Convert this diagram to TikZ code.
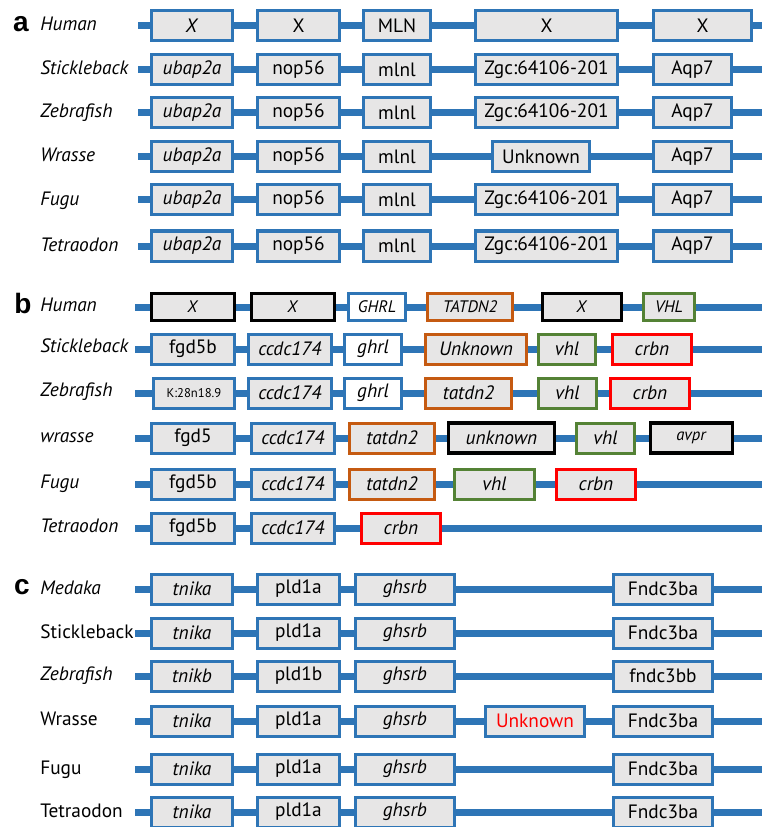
\documentclass[tikz,border=0pt]{standalone}
\usepackage{fontspec}
\setmainfont{PT Sans}
\newfontfamily\panelfont{Liberation Sans}

\definecolor{geneblue}{HTML}{2E75B6}
\definecolor{genegray}{HTML}{E7E6E6}
\definecolor{tatorange}{HTML}{C55A11}
\definecolor{vhlgreen}{HTML}{548235}
\definecolor{crbnred}{HTML}{FF0000}

\newcommand\genefont{\fontsize{14.5}{16}\selectfont}
\newcommand\smallgenefont{\fontsize{12.5}{14}\selectfont}

\tikzset{
  gene/.style={rectangle, draw=geneblue, fill=genegray, line width=2.25pt,
    inner sep=0pt, minimum height=22.5pt, font=\genefont},
  gw/.style={minimum width=#1*0.75pt},
  gh/.style={minimum height=#1*0.75pt},
  whitegene/.style={gene, fill=white},
  orangegene/.style={gene, draw=tatorange},
  greengene/.style={gene, draw=vhlgreen},
  redgene/.style={gene, draw=crbnred},
  blackgene/.style={gene, draw=black, line width=2.6pt},
  chrom/.style={draw=geneblue, line width=5.25pt},
  species/.style={anchor=base west, inner sep=0pt, font=\genefont},
  panel/.style={font=\panelfont\fontsize{21}{24}\selectfont\bfseries, inner sep=0pt}
}

\begin{document}
\begin{tikzpicture}[x=0.75pt,y=-0.75pt]
\useasboundingbox (0,0) rectangle (762,827);

% ---- panel a
\node[panel] (pa) at (21,24) {a};
\node[species] (a1n) at (40,31) {\textit{Human}};
\coordinate (a1s) at (138,26);
\coordinate (a1e) at (762,26);
\node[gene,gw=81] (a11) at (192,26) {\textit{X}};
\node[gene,gw=82] (a12) at (298.5,26) {X};
\node[gene,gw=67] (a13) at (397,26) {MLN};
\node[gene,gw=142] (a14) at (546.5,26) {X};
\node[gene,gw=98] (a15) at (702.5,26) {X};
\draw[chrom] (a1s) -- (a11) -- (a12) -- (a13) -- (a14) -- (a15) -- (a1e);

\foreach \r/\y/\spname in {2/70/Stickleback,3/113/Zebrafish,5/200/Fugu,6/246/Tetraodon}{
  \node[species] (a\r n) at (40,\y+5) {\textit{\spname}};
  \coordinate (a\r s) at (138,\y);
  \coordinate (a\r e) at (762,\y);
  \node[gene,gw=81] (a\r1) at (192,\y) {\textit{ubap2a}};
  \node[gene,gw=82] (a\r2) at (298.5,\y) {nop56};
  \node[gene,gw=67] (a\r3) at (397,\y) {mlnl};
  \node[gene,gw=142] (a\r4) at (546.5,\y) {Zgc:64106-201};
  \node[gene,gw=78] (a\r5) at (692.5,\y) {Aqp7};
  \draw[chrom] (a\r s) -- (a\r1) -- (a\r2) -- (a\r3) -- (a\r4) -- (a\r5) -- (a\r e);
}

\node[species] (a4n) at (40,162) {\textit{Wrasse}};
\coordinate (a4s) at (138,157);
\coordinate (a4e) at (762,157);
\node[gene,gw=81] (a41) at (192,157) {\textit{ubap2a}};
\node[gene,gw=82] (a42) at (298.5,157) {nop56};
\node[gene,gw=67] (a43) at (397,157) {mlnl};
\node[gene,gw=97] (a44) at (541,157) {Unknown};
\node[gene,gw=78] (a45) at (692.5,157) {Aqp7};
\draw[chrom] (a4s) -- (a41) -- (a42) -- (a43) -- (a44) -- (a45) -- (a4e);

% ---- panel b
\node[panel] (pb) at (23,303) {b};
\node[species] (b1n) at (40,311) {\textit{Human}};
\coordinate (b1s) at (135,307);
\coordinate (b1e) at (762,307);
\node[blackgene,gw=83,gh=27,font=\smallgenefont] (b11) at (193,307) {\textit{X}};
\node[blackgene,gw=83,gh=27,font=\smallgenefont] (b12) at (293,307) {\textit{X}};
\node[whitegene,gw=57,gh=27,font=\smallgenefont] (b13) at (377,307) {\textit{GHRL}};
\node[orangegene,gw=85,gh=27,font=\smallgenefont] (b14) at (470,307) {\textit{TATDN2}};
\node[blackgene,gw=79,gh=27,font=\smallgenefont] (b15) at (582,307) {\textit{X}};
\node[greengene,gw=51,gh=27,font=\smallgenefont] (b16) at (669,307) {\textit{VHL}};
\draw[chrom] (b1s) -- (b11) -- (b12) -- (b13) -- (b14) -- (b15) -- (b16) -- (b1e);

\node[species] (b2n) at (40,352) {\textit{Stickleback}};
\coordinate (b2s) at (135,349);
\coordinate (b2e) at (762,349);
\node[gene,gw=83] (b21) at (193,349) {fgd5b};
\node[gene,gw=83] (b22) at (290,349) {\textit{ccdc174}};
\node[whitegene,gw=57] (b23) at (373,349) {\textit{ghrl}};
\node[orangegene,gw=101] (b24) at (476,349) {\textit{Unknown}};
\node[greengene,gw=57] (b25) at (567,349) {\textit{vhl}};
\node[redgene,gw=79] (b26) at (652,349) {\textit{crbn}};
\draw[chrom] (b2s) -- (b21) -- (b22) -- (b23) -- (b24) -- (b25) -- (b26) -- (b2e);

\node[species] (b3n) at (40,396) {\textit{Zebrafish}};
\coordinate (b3s) at (135,393);
\coordinate (b3e) at (762,393);
\node[gene,gw=81,font=\fontsize{9.5}{11}\selectfont] (b31) at (194,393) {K:28n18.9};
\node[gene,gw=83] (b32) at (290,393) {\textit{ccdc174}};
\node[whitegene,gw=57] (b33) at (373,393) {\textit{ghrl}};
\node[orangegene,gw=86] (b34) at (468.5,393) {\textit{tatdn2}};
\node[greengene,gw=58] (b35) at (567.5,393) {\textit{vhl}};
\node[redgene,gw=79] (b36) at (650,393) {\textit{crbn}};
\draw[chrom] (b3s) -- (b31) -- (b32) -- (b33) -- (b34) -- (b35) -- (b36) -- (b3e);

\node[species] (b4n) at (40,442) {\textit{wrasse}};
\coordinate (b4s) at (135,438);
\coordinate (b4e) at (762,438);
\node[gene,gw=83] (b41) at (193,438) {fgd5};
\node[gene,gw=83] (b42) at (293,438) {\textit{ccdc174}};
\node[orangegene,gw=85] (b43) at (392,438) {\textit{tatdn2}};
\node[blackgene,gw=106] (b44) at (501.5,438) {\textit{unknown}};
\node[greengene,gw=58] (b45) at (605.5,438) {\textit{vhl}};
\node[blackgene,gw=82,font=\smallgenefont] (b46) at (691.5,438) {\textit{avpr}};
\draw[chrom] (b4s) -- (b41) -- (b42) -- (b43) -- (b44) -- (b45) -- (b46) -- (b4e);

\node[species] (b5n) at (40,488) {\textit{Fugu}};
\coordinate (b5s) at (135,484);
\coordinate (b5e) at (762,484);
\node[gene,gw=83] (b51) at (193,484) {fgd5b};
\node[gene,gw=83] (b52) at (293,484) {\textit{ccdc174}};
\node[orangegene,gw=85] (b53) at (392,484) {\textit{tatdn2}};
\node[greengene,gw=80] (b54) at (494.5,484) {\textit{vhl}};
\node[redgene,gw=79] (b55) at (596,484) {\textit{crbn}};
\draw[chrom] (b5s) -- (b51) -- (b52) -- (b53) -- (b54) -- (b55) -- (b5e);

\node[species] (b6n) at (40,532) {\textit{Tetraodon}};
\coordinate (b6s) at (135,528);
\coordinate (b6e) at (762,528);
\node[gene,gw=83] (b61) at (193,528) {fgd5b};
\node[gene,gw=83] (b62) at (293,528) {\textit{ccdc174}};
\node[redgene,gw=79] (b63) at (401,528) {\textit{crbn}};
\draw[chrom] (b6s) -- (b61) -- (b62) -- (b63) -- (b6e);

% ---- panel c
\node[panel] (pc) at (22,587) {c};
\foreach \r/\y/\spname in {1/589/{\textit{Medaka}},2/633/Stickleback,5/769/Fugu,6/812/Tetraodon}{
  \node[species] (c\r n) at (40,\y+5) {\spname};
  \coordinate (c\r s) at (135,\y);
  \coordinate (c\r e) at (762,\y);
  \node[gene,gw=81] (c\r1) at (192,\y) {\textit{tnika}};
  \node[gene,gw=82] (c\r2) at (298.5,\y) {pld1a};
  \node[gene,gw=99] (c\r3) at (405,\y) {\textit{ghsrb}};
  \node[gene,gw=99] (c\r4) at (663,\y) {Fndc3ba};
  \draw[chrom] (c\r s) -- (c\r1) -- (c\r2) -- (c\r3) -- (c\r4) -- (c\r e);
}

\node[species] (c3n) at (40,680) {\textit{Zebrafish}};
\coordinate (c3s) at (135,676);
\coordinate (c3e) at (762,676);
\node[gene,gw=81] (c31) at (192,676) {\textit{tnikb}};
\node[gene,gw=82] (c32) at (298.5,676) {pld1b};
\node[gene,gw=99] (c33) at (405,676) {\textit{ghsrb}};
\node[gene,gw=99] (c34) at (663,676) {fndc3bb};
\draw[chrom] (c3s) -- (c31) -- (c32) -- (c33) -- (c34) -- (c3e);

\node[species] (c4n) at (40,725) {Wrasse};
\coordinate (c4s) at (135,721);
\coordinate (c4e) at (762,721);
\node[gene,gw=81] (c41) at (192,721) {\textit{tnika}};
\node[gene,gw=82] (c42) at (298.5,721) {pld1a};
\node[gene,gw=99] (c43) at (405,721) {\textit{ghsrb}};
\node[gene,gw=99,text=crbnred] (c44) at (535,721) {Unknown};
\node[gene,gw=99] (c45) at (663,721) {Fndc3ba};
\draw[chrom] (c4s) -- (c41) -- (c42) -- (c43) -- (c44) -- (c45) -- (c4e);
\end{tikzpicture}
\end{document}
